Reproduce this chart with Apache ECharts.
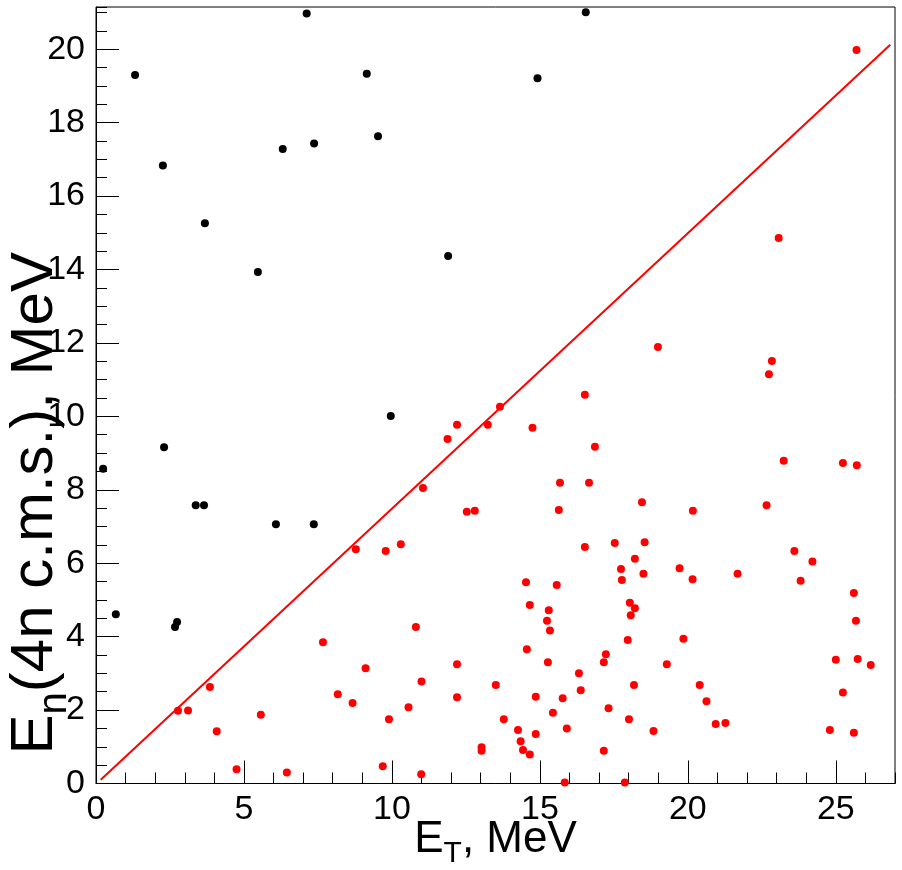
<!DOCTYPE html>
<html><head><meta charset="utf-8">
<script src="https://cdn.jsdelivr.net/npm/echarts@6/dist/echarts.min.js"></script>
<style>html,body{margin:0;padding:0;background:#fff}#c{width:902px;height:870px}</style>
</head><body><div id="c"></div>
<script>
const blackX = [7.12, 1.32, 6.31, 7.37, 2.26, 3.68, 16.55, 9.15, 14.92, 9.53, 11.90, 5.47, 2.30, 0.24, 3.37, 3.65, 9.96, 6.08, 7.36, 0.67, 2.74, 2.67];
const blackY = [20.97, 19.30, 17.28, 17.43, 16.83, 15.26, 21.01, 19.33, 19.21, 17.63, 14.37, 13.93, 9.16, 8.57, 7.58, 7.58, 10.01, 7.06, 7.06, 4.61, 4.40, 4.26];

const redX = [25.70, 23.07,
  13.65, 16.52, 12.20, 13.24, 11.88, 14.75, 16.86, 11.05, 15.68, 16.66, 12.53, 12.80, 15.64,
  18.99, 22.84, 22.74, 23.24, 25.24, 25.71, 18.45, 20.17, 22.66,
  8.78, 7.67, 3.85, 2.77, 3.11, 8.17, 8.67, 5.57, 4.08, 4.75, 6.45,
  10.30, 9.79, 10.81, 9.11, 12.20, 11.00, 13.51, 12.20, 10.56, 9.90, 13.03, 13.03, 9.69, 10.99,
  16.52, 17.53, 18.21, 17.74, 17.77, 14.53, 15.57, 18.04, 18.21, 18.07, 14.66, 15.30, 15.24, 15.34, 17.97, 14.56, 17.23, 15.27, 17.16, 16.32, 18.18, 16.38, 14.86, 15.77, 17.32, 15.44, 13.78, 18.01, 14.26, 14.86, 15.91, 14.35, 14.43, 14.66, 17.16, 15.84, 17.87,
  18.54, 18.50, 19.72, 20.16, 21.68, 19.85, 19.29, 20.40, 20.63, 20.94, 21.27, 18.84,
  23.60, 24.21, 23.81, 25.61, 25.68, 25.00, 25.74, 26.18, 25.24, 24.80, 25.61];
const redY = [19.98, 14.86,
  10.26, 10.59, 9.77, 9.77, 9.38, 9.69, 9.17, 8.05, 8.19, 8.19, 7.40, 7.43, 7.45,
  11.89, 11.51, 11.15, 8.79, 8.73, 8.67, 7.66, 7.43, 7.58,
  6.38, 3.85, 2.63, 1.98, 1.99, 2.43, 2.19, 1.87, 1.42, 0.39, 0.30,
  6.52, 6.33, 4.26, 3.14, 3.25, 2.78, 2.68, 2.35, 2.08, 1.75, 0.99, 0.89, 0.47, 0.25,
  6.44, 6.55, 6.12, 5.84, 5.54, 5.48, 5.41, 4.92, 4.77, 4.58, 4.86, 4.72, 4.43, 4.17, 3.91, 3.66, 3.52, 3.30, 3.30, 3.00, 2.68, 2.54, 2.36, 2.32, 2.05, 1.93, 1.75, 1.75, 1.46, 1.35, 1.50, 1.15, 0.91, 0.79, 0.89, 0.03, 0.03,
  6.57, 5.71, 5.86, 5.56, 5.71, 3.94, 3.25, 2.68, 2.24, 1.62, 1.65, 1.43,
  6.33, 6.05, 5.52, 5.19, 4.43, 3.37, 3.39, 3.23, 2.48, 1.46, 1.38];

const lineX = [0.16, 26.84];
const lineY = [0.10, 20.12];

const xTicks = [0, 5, 10, 15, 20, 25];
const yTicks = [0, 2, 4, 6, 8, 10, 12, 14, 16, 18, 20];

const FONT = 'Liberation Sans';
const X_MIN = 0, X_MAX = 27, Y_MIN = 0, Y_MAX = 21.15;

const zip = (a, b) => a.map((v, i) => [v, b[i]]);

const chart = echarts.init(document.getElementById('c'), null, {renderer: 'canvas'});

const baseX = {type: 'value', min: X_MIN, max: X_MAX, position: 'bottom', splitLine: {show: false}};
const baseY = {type: 'value', min: Y_MIN, max: Y_MAX, position: 'left', splitLine: {show: false}};

chart.setOption({
  animation: false,
  backgroundColor: '#fff',
  grid: {left: 96, top: 7, width: 799, height: 776.5, show: true, borderColor: '#000', borderWidth: 1,
         containLabel: false, outerBoundsMode: 'none'},
  xAxis: [
    Object.assign({}, baseX, {
      interval: 5,
      axisLine: {show: true, onZero: false, lineStyle: {color: '#000', width: 1}},
      axisTick: {show: true, inside: true, length: 23, customValues: xTicks, lineStyle: {color: '#000', width: 1}},
      axisLabel: {show: true, customValues: xTicks, color: '#000', fontFamily: FONT, fontSize: 34, margin: 9},
      name: '{a|E}{sub|T}{a|, MeV}',
      nameLocation: 'middle',
      nameGap: 34,
      nameMoveOverlap: false,
      nameTextStyle: {
        color: '#000', fontFamily: FONT,
        rich: {
          a: {fontFamily: FONT, fontSize: 44, color: '#000', lineHeight: 52, verticalAlign: 'top'},
          sub: {fontFamily: FONT, fontSize: 30, color: '#000', lineHeight: 30, padding: [21, 0, 0, 0], verticalAlign: 'top'}
        }
      }
    }),
    Object.assign({}, baseX, {
      interval: 1,
      axisLine: {show: false},
      axisTick: {show: true, inside: true, length: 11, lineStyle: {color: '#000', width: 1}},
      axisLabel: {show: false}
    })
  ],
  yAxis: [
    Object.assign({}, baseY, {
      interval: 2,
      axisLine: {show: true, onZero: false, lineStyle: {color: '#000', width: 1}},
      axisTick: {show: true, inside: true, length: 23, customValues: yTicks, lineStyle: {color: '#000', width: 1}},
      axisLabel: {show: true, customValues: yTicks, color: '#000', fontFamily: FONT, fontSize: 34, margin: 11},
      name: '{a|E}{sub|n}{a|(4n c.m.s.), MeV}',
      nameLocation: 'middle',
      nameGap: 25,
      nameMoveOverlap: false,
      nameTextStyle: {
        color: '#000', fontFamily: FONT,
        padding: [0, 216, 0, 0],
        rich: {
          a: {fontFamily: FONT, fontSize: 60, color: '#000', lineHeight: 66, verticalAlign: 'top'},
          sub: {fontFamily: FONT, fontSize: 40, color: '#000', lineHeight: 36, padding: [30, 0, 0, 0], verticalAlign: 'top'}
        }
      }
    }),
    Object.assign({}, baseY, {
      interval: 0.5,
      axisLine: {show: false},
      axisTick: {show: true, inside: true, length: 11, lineStyle: {color: '#000', width: 1}},
      axisLabel: {show: false}
    })
  ],
  series: [
    {
      type: 'line', xAxisIndex: 0, yAxisIndex: 0,
      data: zip(lineX, lineY), showSymbol: false, symbol: 'none',
      lineStyle: {color: '#ff0000', width: 2}, z: 2, silent: true
    },
    {
      type: 'scatter', xAxisIndex: 0, yAxisIndex: 0,
      data: zip(blackX, blackY), symbol: 'circle', symbolSize: 8,
      itemStyle: {color: '#000000', opacity: 1}, z: 3
    },
    {
      type: 'scatter', xAxisIndex: 0, yAxisIndex: 0,
      data: zip(redX, redY), symbol: 'circle', symbolSize: 8,
      itemStyle: {color: '#ff0000', opacity: 1}, z: 3
    }
  ]
});
</script>
</body></html>
